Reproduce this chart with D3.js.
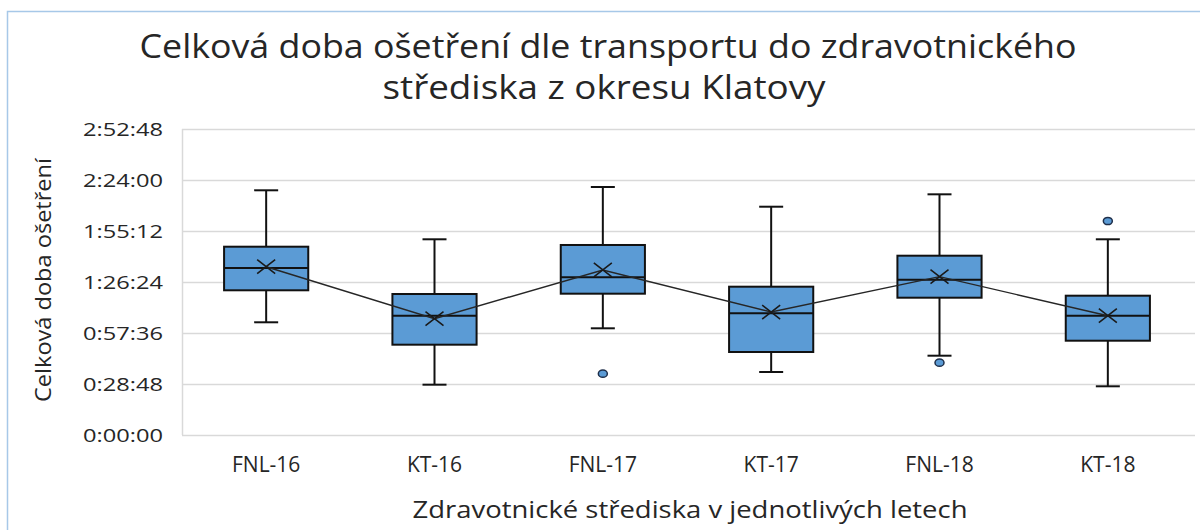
<!DOCTYPE html>
<html><head><meta charset="utf-8">
<script src="https://cdn.jsdelivr.net/npm/d3@7"></script>
<style>html,body{margin:0;padding:0;background:#fff;}svg{display:block;}</style>
</head><body>
<svg id="chart" width="1200" height="530"></svg>
<script>
// Data (values in seconds)
const categories = ["FNL-16","KT-16","FNL-17","KT-17","FNL-18","KT-18"];
const whiskerMin = [3819, 1705, 3615, 2135, 2687, 1650];
const quartile1  = [4903, 3060, 4788, 2812, 4652, 3195];
const medians    = [5658, 4042, 5343, 4123, 5262, 4042];
const quartile3  = [6380, 4777, 6438, 5025, 6075, 4720];
const whiskerMax = [8291, 6631, 8403, 7735, 8155, 6631];
const means      = [5702, 3941, 5591, 4167, 5364, 4042];
const outliers   = [[], [], [2077], [], [2450], [7251]];
const yTickValues = [0, 1728, 3456, 5184, 6912, 8640, 10368];
const yTickLabels = ["0:00:00","0:28:48","0:57:36","1:26:24","1:55:12","2:24:00","2:52:48"];
const titleLines = ["Celková doba ošetření dle transportu do zdravotnického", "střediska z okresu Klatovy"];
const xTitle = "Zdravotnické střediska v jednotlivých letech";
const yTitle = "Celková doba ošetření";

const FONT = "'Open Sans', 'DejaVu Sans', sans-serif";
const BLUE = "#5B9BD5";
const svg = d3.select("#chart");

// frame
svg.append("path").attr("d","M7.5,530 L7.5,11.5 L1200,11.5")
  .attr("fill","none").attr("stroke","#A7C8E8").attr("stroke-width",1.5);

const x = d3.scaleBand().domain(categories).range([182,1192]).paddingInner(0.5).paddingOuter(0.25);
const y = d3.scaleLinear().domain([0,10368]).range([435,129]);

// gridlines
const grid = svg.append("g").attr("transform","translate(182,0)")
  .call(d3.axisLeft(y).tickValues(yTickValues).tickSize(-1013).tickFormat(""));
grid.select(".domain").remove();
grid.selectAll(".tick line").attr("stroke","#D9D9D9").attr("stroke-width",1.5);
svg.append("line").attr("x1",182.5).attr("x2",182.5).attr("y1",y(10368)).attr("y2",y(0))
  .attr("stroke","#D9D9D9").attr("stroke-width",1.5);

// y tick labels
const yAxis = svg.append("g").attr("transform","translate(163,0)")
  .call(d3.axisLeft(y).tickValues(yTickValues).tickSize(0).tickPadding(0)
    .tickFormat((d,i)=>yTickLabels[i]));
yAxis.select(".domain").remove();
yAxis.selectAll(".tick text").attr("font-family",FONT).attr("font-size",19)
  .attr("fill","#262626").attr("textLength",80).attr("lengthAdjust","spacingAndGlyphs");

// x labels
const xAxis = svg.append("g").attr("transform","translate(0,455)")
  .call(d3.axisBottom(x).tickSize(0).tickPadding(0));
xAxis.select(".domain").remove();
xAxis.selectAll(".tick text").attr("font-family",FONT).attr("font-size",21)
  .attr("fill","#262626").attr("dy","0.71em").attr("y",2);

const cx = d => x(d) + x.bandwidth()/2;
const bw = x.bandwidth();
const g = svg.append("g");
categories.forEach((c,i) => {
  const xc = cx(c);
  // whiskers
  g.append("line").attr("x1",xc).attr("x2",xc).attr("y1",y(quartile3[i])).attr("y2",y(whiskerMax[i]))
    .attr("stroke","#111").attr("stroke-width",2);
  g.append("line").attr("x1",xc).attr("x2",xc).attr("y1",y(quartile1[i])).attr("y2",y(whiskerMin[i]))
    .attr("stroke","#111").attr("stroke-width",2);
  [whiskerMax[i], whiskerMin[i]].forEach(v => {
    g.append("line").attr("x1",xc-12).attr("x2",xc+12).attr("y1",y(v)).attr("y2",y(v))
      .attr("stroke","#111").attr("stroke-width",2);
  });
  // box
  g.append("rect").attr("x",x(c)).attr("width",bw)
    .attr("y",y(quartile3[i])).attr("height",y(quartile1[i])-y(quartile3[i]))
    .attr("fill",BLUE).attr("stroke","#111").attr("stroke-width",2);
  g.append("line").attr("x1",x(c)).attr("x2",x(c)+bw).attr("y1",y(medians[i])).attr("y2",y(medians[i]))
    .attr("stroke","#111").attr("stroke-width",2);
  // outliers
  outliers[i].forEach(v => {
    g.append("ellipse").attr("cx",xc).attr("cy",y(v)).attr("rx",4.5).attr("ry",3.6)
      .attr("fill",BLUE).attr("stroke","#1F2F4A").attr("stroke-width",1.5);
  });
});

// mean line
const line = d3.line().x((d,i)=>cx(categories[i])).y(d=>y(d));
svg.append("path").attr("d",line(means)).attr("fill","none").attr("stroke","#262626").attr("stroke-width",1.4);

// mean markers
means.forEach((m,i) => {
  const xc = cx(categories[i]), yc = y(m);
  svg.append("path").attr("d",`M${xc-9},${yc-7}L${xc+9},${yc+7}M${xc-9},${yc+7}L${xc+9},${yc-7}`)
    .attr("stroke","#1a1a1a").attr("stroke-width",1.6).attr("fill","none");
});

// title
svg.append("text").attr("x",608).attr("y",58).attr("text-anchor","middle")
  .attr("font-family",FONT).attr("font-size",32).attr("fill","#262626")
  .attr("textLength",937).attr("lengthAdjust","spacingAndGlyphs").text(titleLines[0]);
svg.append("text").attr("x",604).attr("y",99).attr("text-anchor","middle")
  .attr("font-family",FONT).attr("font-size",32).attr("fill","#262626")
  .attr("textLength",443).attr("lengthAdjust","spacingAndGlyphs").text(titleLines[1]);

// axis titles
svg.append("text").attr("x",690).attr("y",518).attr("text-anchor","middle")
  .attr("font-family",FONT).attr("font-size",24).attr("fill","#262626")
  .attr("textLength",555).attr("lengthAdjust","spacingAndGlyphs").text(xTitle);
svg.append("text").attr("transform","translate(51,280) rotate(-90)").attr("text-anchor","middle")
  .attr("font-family",FONT).attr("font-size",22).attr("fill","#262626")
  .attr("textLength",244).attr("lengthAdjust","spacingAndGlyphs").text(yTitle);
</script>
</body></html>
